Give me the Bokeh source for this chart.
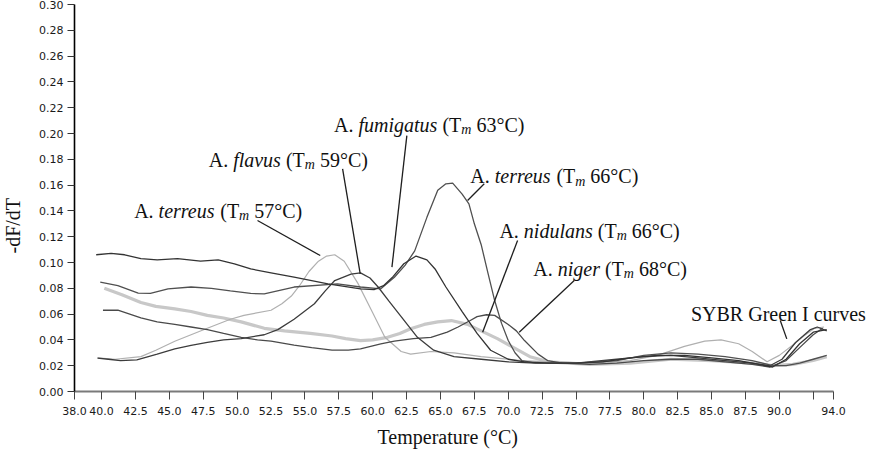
from bokeh.plotting import figure
from bokeh.models import Range1d, FixedTicker, PrintfTickFormatter, Title, ColumnDataSource
from bokeh.core.properties import value
from bokeh.embed import file_html
from bokeh.resources import INLINE

# ---------------- data ----------------
x_ticks = [38.0, 40.0, 42.5, 45.0, 47.5, 50.0, 52.5, 55.0, 57.5, 60.0, 62.5, 65.0,
           67.5, 70.0, 72.5, 75.0, 77.5, 80.0, 82.5, 85.0, 87.5, 90.0, 94.0]
x_minor = [92.5]
y_ticks = [0.00, 0.02, 0.04, 0.06, 0.08, 0.10, 0.12, 0.14, 0.16, 0.18, 0.20,
           0.22, 0.24, 0.26, 0.28, 0.30]

# A. nidulans (thick light grey)
nid_t = [40.2, 41.5, 42.9, 44.0, 45.4, 46.6, 47.8, 49.0, 50.3, 52.0, 53.5, 55.4, 57.0,
         58.0, 59.1, 60.0, 61.1, 62.0, 62.8, 63.8, 64.8, 65.8, 67.0, 68.0, 69.2, 70.4,
         71.6, 73.0, 76.0, 79.0, 82.0, 85.0, 88.0, 89.5, 91.0, 92.5, 93.5]
nid_v = [0.080, 0.075, 0.069, 0.066, 0.064, 0.062, 0.059, 0.057, 0.054, 0.049, 0.047,
         0.045, 0.043, 0.041, 0.0395, 0.040, 0.042, 0.045, 0.0486, 0.052, 0.054, 0.055,
         0.052, 0.047, 0.041, 0.034, 0.027, 0.023, 0.021, 0.022, 0.025, 0.024, 0.022,
         0.020, 0.021, 0.024, 0.027]

# A. terreus Tm 57 (thin light grey)
t57_t = [39.7, 41.0, 42.9, 44.0, 45.4, 46.6, 47.8, 49.5, 50.5, 52.5, 53.3, 54.0, 54.6,
         55.3, 56.0, 56.6, 57.2, 57.9, 58.9, 60.0, 60.9, 62.1, 62.8, 64.3, 66.0, 68.0,
         71.0, 73.0, 76.0, 79.0, 81.0, 83.0, 84.5, 85.7, 87.0, 88.0, 89.1, 90.0, 91.0,
         91.8, 92.6, 93.3]
t57_v = [0.026, 0.025, 0.027, 0.032, 0.039, 0.044, 0.049, 0.056, 0.059, 0.063, 0.068,
         0.074, 0.082, 0.093, 0.101, 0.105, 0.106, 0.101, 0.084, 0.061, 0.042, 0.031,
         0.029, 0.031, 0.030, 0.027, 0.024, 0.023, 0.022, 0.024, 0.028, 0.035, 0.039,
         0.040, 0.037, 0.031, 0.023, 0.028, 0.036, 0.043, 0.049, 0.050]

# A. fumigatus Tm 63 (dark)
fum_t = [39.6, 40.7, 41.7, 42.9, 44.1, 45.6, 47.3, 48.6, 49.8, 51.0, 52.5, 54.2, 56.7,
         59.1, 60.1, 60.8, 61.5, 62.3, 63.2, 64.0, 64.6, 65.4, 66.6, 67.7, 68.7, 70.0,
         71.2, 73.0, 75.0, 77.0, 79.0, 81.0, 83.0, 85.0, 87.0, 88.5, 89.5, 90.5, 91.5,
         92.5, 93.5]
fum_v = [0.106, 0.107, 0.106, 0.103, 0.102, 0.103, 0.101, 0.102, 0.099, 0.095, 0.092,
         0.0886, 0.0835, 0.0796, 0.079, 0.082, 0.089, 0.099, 0.105, 0.102, 0.095, 0.081,
         0.062, 0.045, 0.032, 0.025, 0.023, 0.022, 0.022, 0.023, 0.026, 0.028, 0.028,
         0.026, 0.024, 0.021, 0.019, 0.025, 0.037, 0.046, 0.048]

# A. terreus Tm 66 (dark)
t66_t = [39.9, 41.2, 42.7, 43.6, 44.9, 46.6, 48.1, 49.5, 51.0, 52.0, 54.2, 57.4, 59.1,
         60.6, 61.6, 62.4, 63.1, 64.0, 64.8, 65.4, 65.9, 66.6, 67.1, 67.5, 68.0, 68.5,
         69.0, 69.5, 70.0, 70.5, 71.0, 72.0, 75.0, 78.0, 80.0, 82.0, 84.0, 86.0, 88.0,
         89.5, 90.5, 91.5, 92.5, 93.5]
t66_v = [0.0847, 0.082, 0.0762, 0.076, 0.0796, 0.081, 0.080, 0.078, 0.076, 0.0757,
         0.081, 0.0835, 0.081, 0.0796, 0.0886, 0.098, 0.109, 0.135, 0.156, 0.161, 0.1615,
         0.153, 0.1455, 0.130, 0.114, 0.092, 0.0705, 0.053, 0.0395, 0.030, 0.024, 0.022,
         0.022, 0.024, 0.028, 0.030, 0.029, 0.027, 0.024, 0.020, 0.020, 0.022, 0.025, 0.028]

# A. flavus Tm 59 (dark)
fla_t = [39.7, 40.5, 41.4, 42.6, 44.1, 45.4, 46.6, 47.8, 49.0, 50.3, 52.0, 53.0, 54.2,
         55.7, 56.5, 57.2, 58.4, 59.1, 59.8, 60.4, 61.2, 62.1, 63.3, 64.5, 66.0, 68.0,
         70.0, 72.0, 75.0, 78.0, 80.0, 82.0, 84.0, 86.0, 88.0, 89.3, 90.2, 91.2, 92.3,
         92.8, 93.5]
fla_v = [0.0258, 0.025, 0.024, 0.0245, 0.029, 0.033, 0.0357, 0.038, 0.040, 0.041, 0.044,
         0.048, 0.056, 0.068, 0.078, 0.086, 0.091, 0.092, 0.088, 0.081, 0.070, 0.058,
         0.042, 0.032, 0.027, 0.025, 0.023, 0.022, 0.022, 0.025, 0.027, 0.028, 0.026,
         0.024, 0.022, 0.020, 0.025, 0.038, 0.048, 0.050, 0.047]

# A. niger Tm 68 (dark)
nig_t = [40.1, 41.2, 42.9, 44.1, 45.4, 46.6, 47.8, 49.0, 50.3, 51.5, 52.5, 54.2, 55.5,
         57.0, 58.2, 59.1, 60.6, 61.6, 63.0, 64.3, 65.5, 66.3, 67.2, 67.7, 68.4, 69.0,
         70.0, 70.6, 71.2, 72.2, 72.9, 74.0, 76.0, 78.0, 80.0, 82.0, 84.0, 86.0, 88.0,
         89.3, 90.5, 91.5, 92.5, 93.2]
nig_v = [0.063, 0.063, 0.057, 0.054, 0.052, 0.050, 0.048, 0.045, 0.042, 0.040, 0.039,
         0.036, 0.034, 0.032, 0.032, 0.033, 0.037, 0.039, 0.041, 0.042, 0.046, 0.050,
         0.055, 0.058, 0.0595, 0.059, 0.052, 0.047, 0.0395, 0.029, 0.024, 0.022, 0.021,
         0.022, 0.024, 0.025, 0.025, 0.023, 0.021, 0.019, 0.024, 0.034, 0.044, 0.049]

# annotations: text pieces, anchors (left/baseline) and leader lines
ann_species = ["terreus", "flavus", "fumigatus", "terreus", "nidulans", "niger"]
ann_tm = ["57", "59", "63", "66", "66", "68"]
ann_x = [42.4, 47.9, 57.15, 67.2, 69.35, 71.85]
ann_y = [0.1403, 0.1796, 0.2066, 0.1670, 0.1248, 0.0951]
sybr_text = "SYBR Green I curves"
sybr_x, sybr_y = 83.48, 0.0597
lead_x0 = [51.5, 57.78, 62.52, 68.23, 70.69, 74.87, 90.07]
lead_y0 = [0.1326, 0.1726, 0.1984, 0.1610, 0.1170, 0.0860, 0.0550]
lead_x1 = [56.13, 59.08, 61.42, 67.00, 68.11, 70.81, 90.55]
lead_y1 = [0.1054, 0.0912, 0.0964, 0.1480, 0.0460, 0.0460, 0.0408]

x_title = "Temperature (°C)"
y_title = "-dF/dT"

# ---------------- figure ----------------
p = figure(width=876, height=452, x_range=Range1d(38, 97.17), y_range=Range1d(0, 0.30),
           output_backend="svg", toolbar_location=None,
           min_border_left=74, min_border_right=0, min_border_top=4, min_border_bottom=61)
p.outline_line_color = None
p.grid.visible = False
p.background_fill_color = "white"
p.border_fill_color = "white"

xa = p.xaxis[0]
xa.bounds = (38, 94)
xa.ticker = FixedTicker(ticks=x_ticks, minor_ticks=x_minor)
xa.formatter = PrintfTickFormatter(format="%.1f")
xa.axis_line_color = "#7a7a7a"
xa.axis_line_width = 2
xa.major_tick_line_color = "#444444"
xa.minor_tick_line_color = "#444444"
xa.major_tick_out = 8
xa.major_tick_in = 0
xa.minor_tick_out = 8
xa.minor_tick_in = 0
xa.major_label_standoff = 7
xa.major_label_text_font = "DejaVu Sans"
xa.major_label_text_font_size = "11px"
xa.major_label_text_color = "#1a1a1a"

ya = p.yaxis[0]
ya.ticker = FixedTicker(ticks=y_ticks)
ya.formatter = PrintfTickFormatter(format="%.2f")
ya.axis_line_color = "black"
ya.axis_line_width = 1.6
ya.major_tick_line_color = "#333333"
ya.major_tick_out = 7
ya.major_tick_in = 0
ya.minor_tick_line_color = None
ya.major_label_standoff = 4
ya.major_label_text_font = "DejaVu Sans"
ya.major_label_text_font_size = "11px"
ya.major_label_text_color = "#1a1a1a"

# spacer panels so the axis titles sit where the reference has them
p.add_layout(Title(text=" ", text_font_size="1px", standoff=8), "left")
p.add_layout(Title(text=" ", text_font_size="1px", standoff=5), "below")

# axis titles as side-panel titles (positioned with align/offset)
p.add_layout(Title(text=x_title, align="left", offset=303, standoff=0,
                   vertical_align="top",
                   text_font="Liberation Serif", text_font_size="20px",
                   text_font_style="normal", text_color="#111111"), "below")
p.add_layout(Title(text=y_title, align="left", offset=138, standoff=0,
                   vertical_align="top",
                   text_font="Liberation Serif", text_font_size="20px",
                   text_font_style="normal", text_color="#111111"), "left")

# curves
p.line(nid_t, nid_v, line_color="#c8c8c8", line_width=3.2)
p.line(t57_t, t57_v, line_color="#b0b0b0", line_width=1.2)
p.line(nig_t, nig_v, line_color="#4a4a4a", line_width=1.3)
p.line(fla_t, fla_v, line_color="#3c3c3c", line_width=1.3)
p.line(t66_t, t66_v, line_color="#505050", line_width=1.3)
p.line(fum_t, fum_v, line_color="#333333", line_width=1.3)

# leader lines
p.segment(x0=lead_x0, y0=lead_y0, x1=lead_x1, y1=lead_y1, line_color="#1e1e1e", line_width=1.3)

# annotation text pieces (Times metrics to place pieces; spaces become offsets)
REG = {' ': 250, 'A': 722, '.': 250, '(': 333, ')': 333, 'T': 611, '0': 500, '1': 500,
       '2': 500, '3': 500, '4': 500, '5': 500, '6': 500, '7': 500, '8': 500, '9': 500,
       '°': 400, 'C': 667}
ITA = {'a': 500, 'd': 500, 'e': 444, 'f': 278, 'g': 500, 'i': 278, 'l': 278, 'm': 722,
       'n': 500, 'r': 389, 's': 389, 't': 278, 'u': 500, 'v': 444}
FS = 20.0
SUB = 14.0
SPACE = 0.25 * FS

def w(s, table, size):
    return sum(table.get(c, 500) for c in s) / 1000.0 * size

rows = dict(x=[], y=[], text=[], xo=[], yo=[], style=[], size=[])
for sp, tm, ax, ay in zip(ann_species, ann_tm, ann_x, ann_y):
    pieces = [("A.", "normal", FS, 0, REG, SPACE), (sp, "italic", FS, 0, ITA, SPACE),
              ("(T", "normal", FS, 0, REG, 0.0), ("m", "italic", SUB, 5, ITA, SPACE),
              (tm + "°C)", "normal", FS, 0, REG, 0.0)]
    off = 0.0
    for txt, st, sz, yo, tab, gap in pieces:
        rows["x"].append(ax); rows["y"].append(ay); rows["text"].append(txt)
        rows["xo"].append(off); rows["yo"].append(yo); rows["style"].append(st)
        rows["size"].append("%gpx" % sz)
        off += w(txt, tab, sz) + gap
src = ColumnDataSource(rows)
p.text(x="x", y="y", text="text", x_offset="xo", y_offset="yo", source=src,
       text_font=value("Liberation Serif"), text_font_style="style", text_font_size="size",
       text_align="left", text_baseline="alphabetic", text_color="#111111")

p.text(x=[sybr_x], y=[sybr_y], text=[sybr_text], text_font=value("Liberation Serif"),
       text_font_size="20px", text_align="left", text_baseline="alphabetic",
       text_color="#111111")

open("out.html", "w").write(file_html(p, INLINE))
